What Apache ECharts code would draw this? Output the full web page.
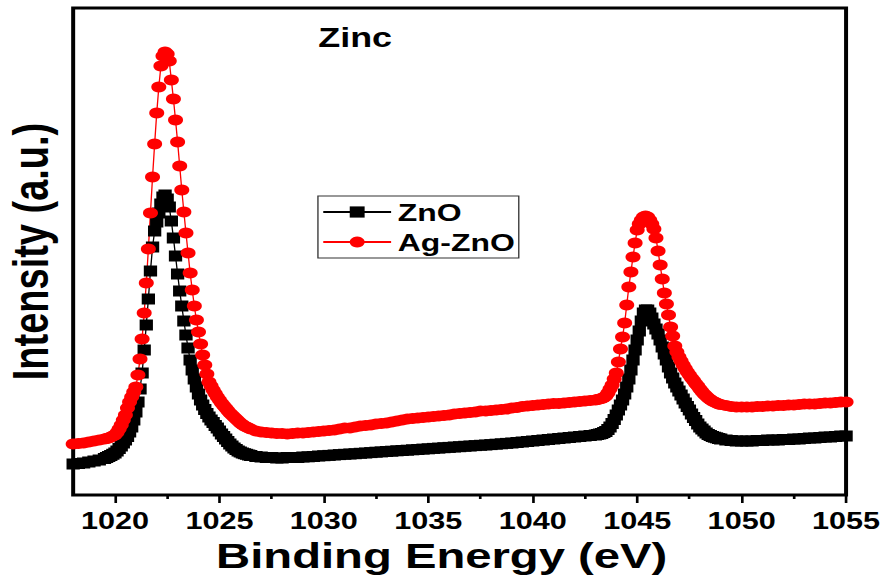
<!DOCTYPE html>
<html>
<head>
<meta charset="utf-8">
<script src="https://cdn.jsdelivr.net/npm/echarts@6/dist/echarts.min.js"></script>
<style>
  html, body { margin: 0; padding: 0; background: #fff; overflow: hidden; }
  /* the plot is laid out on a narrower canvas and widened to the page */
  #chart { width: 666px; height: 582px; transform: scaleX(1.3303); transform-origin: 0 0; }
</style>
</head>
<body>
<div id="chart"></div>
<script>
// Binding energy grid (eV): 0.1 eV steps across both Zn 2p peaks, 0.25 eV elsewhere
const energy = [
  1018, 1018.25, 1018.5, 1018.75, 1019, 1019.25, 1019.5,
  1019.6, 1019.7, 1019.8, 1019.9, 1020.0,
  1020.1, 1020.2, 1020.3, 1020.4, 1020.5, 1020.6, 1020.7, 1020.8, 1020.9, 1021.0,
  1021.1, 1021.2, 1021.3, 1021.4, 1021.5, 1021.6, 1021.7, 1021.8, 1021.9, 1022.0,
  1022.1, 1022.2, 1022.3, 1022.4, 1022.5, 1022.6, 1022.7, 1022.8, 1022.9, 1023.0,
  1023.1, 1023.2, 1023.3, 1023.4, 1023.5, 1023.6, 1023.7, 1023.8, 1023.9, 1024.0,
  1024.1, 1024.2, 1024.3, 1024.4, 1024.5,
  1024.6, 1024.7, 1024.8, 1024.9, 1025.0, 1025.1, 1025.2, 1025.3, 1025.4, 1025.5,
  1025.6, 1025.7, 1025.8, 1025.9, 1026.0, 1026.1, 1026.2, 1026.3, 1026.4, 1026.5,
  1026.75,
  1027, 1027.25, 1027.5, 1027.75, 1028, 1028.25, 1028.5, 1028.75,
  1029, 1029.25, 1029.5, 1029.75, 1030, 1030.25, 1030.5, 1030.75,
  1031, 1031.25, 1031.5, 1031.75, 1032, 1032.25, 1032.5, 1032.75,
  1033, 1033.25, 1033.5, 1033.75, 1034, 1034.25, 1034.5, 1034.75,
  1035, 1035.25, 1035.5, 1035.75, 1036, 1036.25, 1036.5, 1036.75,
  1037, 1037.25, 1037.5, 1037.75, 1038, 1038.25, 1038.5, 1038.75,
  1039, 1039.25, 1039.5, 1039.75, 1040, 1040.25, 1040.5, 1040.75,
  1041, 1041.25, 1041.5, 1041.75, 1042, 1042.25, 1042.5, 1042.75,
  1043.0, 1043.1, 1043.2, 1043.3, 1043.4, 1043.5,
  1043.6, 1043.7, 1043.8, 1043.9, 1044.0, 1044.1, 1044.2, 1044.3, 1044.4, 1044.5,
  1044.6, 1044.7, 1044.8, 1044.9, 1045.0, 1045.1, 1045.2, 1045.3, 1045.4, 1045.5,
  1045.6, 1045.7, 1045.8, 1045.9, 1046.0, 1046.1, 1046.2, 1046.3, 1046.4, 1046.5,
  1046.6, 1046.7, 1046.8, 1046.9, 1047.0, 1047.1, 1047.2, 1047.3, 1047.4, 1047.5,
  1047.6, 1047.7, 1047.8, 1047.9, 1048.0, 1048.1, 1048.2, 1048.3, 1048.4, 1048.5,
  1048.6, 1048.7, 1048.8, 1048.9, 1049.0,
  1049.25, 1049.5, 1049.75,
  1050, 1050.25, 1050.5, 1050.75, 1051, 1051.25, 1051.5, 1051.75,
  1052, 1052.25, 1052.5, 1052.75, 1053, 1053.25, 1053.5, 1053.75,
  1054, 1054.25, 1054.5, 1054.75, 1055
];

// Zn 2p intensity, ZnO (a.u.)
const zno = [
  31, 31.5, 32, 33, 34, 35, 36.5,
  37.5, 38.5, 39.5, 40.7, 42,
  44, 46.5, 49, 52, 55, 58.5, 63, 68, 75, 83,
  93, 106, 122, 145, 170, 196, 224, 248, 264, 273,
  282, 291, 298, 300, 296, 288, 274, 257, 239, 221,
  204, 189, 174, 160, 147, 135, 125, 116, 108, 101,
  95, 90, 85.5, 81.5, 78,
  75, 72.5, 69.5, 67, 64, 61, 58.5, 56, 53.5, 51,
  49, 47, 45.5, 44, 43, 42, 41.3, 40.7, 40, 39.5,
  38.5,
  38, 37.5, 37.5, 37, 37, 37.5, 37.5, 37.5,
  38, 38.2, 38.5, 39, 39.3, 39.6, 40, 40.4,
  40.7, 41, 41.3, 41.7, 42, 42.4, 42.8, 43.1,
  43.5, 43.8, 44.2, 44.5, 44.8, 45.2, 45.5, 45.9,
  46.2, 46.6, 46.9, 47.3, 47.6, 48, 48.3, 48.7,
  49, 49.4, 49.7, 50, 50.4, 50.8, 51.2, 51.6,
  52, 52.5, 53, 53.5, 54, 54.5, 55, 55.5,
  56, 56.5, 57, 57.5, 58, 58.5, 59, 59.5,
  60, 60.5, 61, 61.5, 62.5, 63.5,
  65.5, 68, 71.5, 75.5, 80, 85, 90, 95, 101, 108,
  116, 125, 135, 145, 155, 164, 174, 182, 185, 185,
  182, 177, 171, 166, 161, 155, 148, 141, 135, 128,
  122, 117, 112, 108, 104, 100, 96, 92, 88.5, 85,
  81, 77.5, 74.5, 71, 68, 66, 64, 62, 60.5, 59.5,
  58.5, 57.8, 57.2, 56.5, 56,
  55, 54.5, 54,
  54, 54, 54, 54.5, 54.5, 55, 55, 55,
  55.5, 55.5, 56, 56, 56.5, 57, 57, 57.5,
  58, 58, 58.5, 59, 59
];

// Zn 2p intensity, Ag-ZnO (a.u.)
const agZno = [
  51, 51.5, 52, 53, 54, 55, 56,
  56.5, 57, 58, 59, 60,
  62.5, 66, 70, 75, 80, 87, 93, 98, 103, 108,
  120, 136, 156, 182, 212, 246, 282, 318, 351, 382,
  408, 429, 439, 443, 441, 434, 415, 396, 375, 353,
  329, 305, 283, 262, 242, 222, 205, 189, 175, 163,
  151, 140, 130, 121, 113,
  109, 105, 101.5, 98, 95, 92, 89.5, 87, 84.5, 82,
  80, 78, 76, 74, 72, 70.5, 69, 68, 67, 66,
  64,
  63, 62.5, 62, 61.5, 61.5, 61, 61.5, 62,
  62, 62.5, 63, 63.5, 64, 64.5, 65, 66,
  67, 67, 68, 69, 69.5, 70, 71, 71.5,
  72, 73, 74, 75, 76, 76.5, 77, 77.5,
  78, 78.5, 79, 79.5, 80, 81, 81.5, 82,
  82.5, 83, 84, 84, 84.5, 85, 85.5, 86,
  87, 87.5, 88.5, 89, 89.5, 90, 90.5, 91,
  91.5, 91.5, 92, 92.5, 93, 93.5, 94, 94.5,
  95, 95.5, 96, 96.5, 97.5, 99,
  102, 106, 110, 116, 122, 133, 146, 158, 172, 190,
  208, 223, 238, 252, 265, 271, 275, 278, 279, 278,
  275, 271, 266, 257, 244, 230, 216, 202, 191, 180,
  168, 159, 149, 143, 138, 134, 130, 126.5, 123, 120,
  117, 114.5, 111.5, 109, 106, 103.5, 101, 99, 97, 95.5,
  94, 93, 92, 91, 90.5,
  89.5, 88.5, 88,
  88, 88, 88, 88.5, 88.5, 89, 89, 89.5,
  89.5, 90, 90, 90.5, 91, 91, 91, 91.5,
  92, 92, 92.5, 93, 93
];

// Axis ticks (eV)
const majorTicks = [1020, 1025, 1030, 1035, 1040, 1045, 1050, 1055];
const minorTicks = [1022.5, 1027.5, 1032.5, 1037.5, 1042.5, 1047.5, 1052.5];

const seriesNames = ['ZnO', 'Ag-ZnO'];
const FONT = '"Liberation Sans", Arial, sans-serif';

const chart = echarts.init(document.getElementById('chart'), null, { renderer: 'svg' });

chart.setOption({
  animation: false,
  backgroundColor: '#fff',
  grid: {
    left: 55, right: 30, top: 8, bottom: 87,
    outerBoundsMode: 'none', containLabel: false,
    show: true, borderColor: '#000', borderWidth: 3, backgroundColor: 'transparent'
  },
  graphic: [{
    type: 'text', x: 267, y: 38,
    style: { text: 'Zinc', font: 'bold 27px ' + FONT, fill: '#000', align: 'center', verticalAlign: 'middle' }
  }],
  legend: {
    orient: 'vertical', left: 239, top: 196,
    padding: [4, 3, 4, 3],
    itemWidth: 51, itemHeight: 14, itemGap: 6,
    borderColor: '#333', borderWidth: 1,
    textStyle: { fontFamily: FONT, fontWeight: 'bold', fontSize: 24, lineHeight: 24, color: '#000' },
    data: seriesNames
  },
  xAxis: [{
    type: 'value', min: 1018, max: 1055,
    name: 'Binding Energy (eV)', nameLocation: 'middle', nameGap: 43,
    nameTextStyle: { fontFamily: FONT, fontWeight: 'bold', fontSize: 35.5, color: '#000', padding: [0, 27, 0, 0] },
    axisLine: { show: false },
    axisTick: { show: true, inside: false, length: 8, customValues: majorTicks, lineStyle: { color: '#000', width: 2 } },
    axisLabel: {
      show: true, margin: 15, customValues: majorTicks,
      formatter: v => String(v),
      fontFamily: FONT, fontWeight: 'bold', fontSize: 23, color: '#000'
    },
    splitLine: { show: false }
  }, {
    type: 'value', min: 1018, max: 1055, position: 'bottom',
    axisLine: { show: false },
    axisTick: { show: true, inside: false, length: 4, customValues: minorTicks, lineStyle: { color: '#000', width: 2 } },
    axisLabel: { show: false },
    splitLine: { show: false }
  }],
  yAxis: {
    type: 'value', min: 0, max: 487,
    name: 'Intensity (a.u.)', nameLocation: 'middle', nameGap: 13,
    nameTextStyle: { fontFamily: FONT, fontWeight: 'bold', fontSize: 38, lineHeight: 38, color: '#000' },
    axisLine: { show: false }, axisTick: { show: false }, axisLabel: { show: false },
    splitLine: { show: false }
  },
  series: [{
    name: seriesNames[0], type: 'line', xAxisIndex: 0,
    data: energy.map((e, i) => [e, zno[i]]),
    symbol: 'rect', symbolSize: [10, 11], showSymbol: true, showAllSymbol: true,
    itemStyle: { color: '#000' }, lineStyle: { color: '#000', width: 1 }
  }, {
    name: seriesNames[1], type: 'line', xAxisIndex: 0,
    data: energy.map((e, i) => [e, agZno[i]]),
    symbol: 'circle', symbolSize: [11.3, 11], showSymbol: true, showAllSymbol: true,
    itemStyle: { color: '#ff0000' }, lineStyle: { color: '#ff0000', width: 1 }
  }]
});
</script>
</body>
</html>
